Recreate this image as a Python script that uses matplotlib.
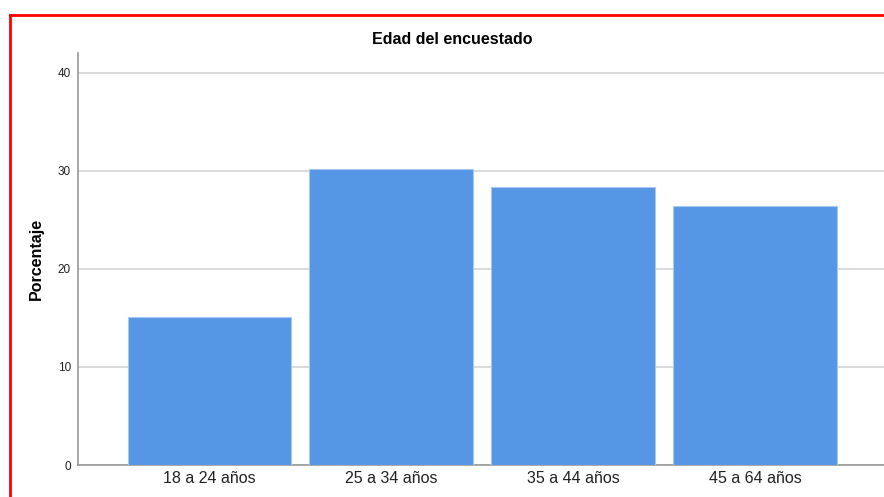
import matplotlib.pyplot as plt
from matplotlib.lines import Line2D

grupos = ["18 a 24 años", "25 a 34 años", "35 a 44 años", "45 a 64 años"]
porcentaje = [15.1, 30.2, 28.3, 26.4]
ticks_y = [0, 10, 20, 30, 40]

plt.rcParams["font.family"] = ["Liberation Sans", "DejaVu Sans"]

fig = plt.figure(figsize=(8.84, 4.97), dpi=100)
ax = fig.add_axes([78 / 884, 32 / 497, 806 / 884, 412 / 497])

x = range(len(grupos))
ax.bar(x, porcentaje, width=0.9, color="#5596e5", edgecolor="#a9c8f0",
       linewidth=0.8, zorder=3)

ax.set_xlim(-0.723, 3.71)
ax.set_ylim(0, 42)
ax.set_yticks(ticks_y)
ax.set_xticks(list(x))
ax.set_xticklabels(grupos, fontsize=11.5, color="#222222")
ax.tick_params(axis="x", length=0, pad=4)
ax.tick_params(axis="y", length=0, pad=5, labelsize=8.5, labelcolor="#222222")
ax.yaxis.grid(True, color="#d9d9d9", linewidth=1.4, zorder=0)

for s in ["top", "right"]:
    ax.spines[s].set_visible(False)
ax.spines["left"].set_color("#999999")
ax.spines["bottom"].set_color("#999999")
ax.spines["left"].set_linewidth(1.2)
ax.spines["bottom"].set_linewidth(1.2)

ax.set_ylabel("Porcentaje", fontsize=11.5, fontweight="bold", labelpad=10)
fig.text(452 / 884, 1 - 40 / 497, "Edad del encuestado", fontsize=11.5,
         fontweight="bold", ha="center", va="center")

# marco rojo
fig.add_artist(Line2D([10 / 884, 10 / 884], [0, 1 - 15 / 497],
                      transform=fig.transFigure, color="red", linewidth=2))
fig.add_artist(Line2D([10 / 884, 1], [1 - 15 / 497, 1 - 15 / 497],
                      transform=fig.transFigure, color="red", linewidth=2))

fig.savefig("out.png", dpi=100)
